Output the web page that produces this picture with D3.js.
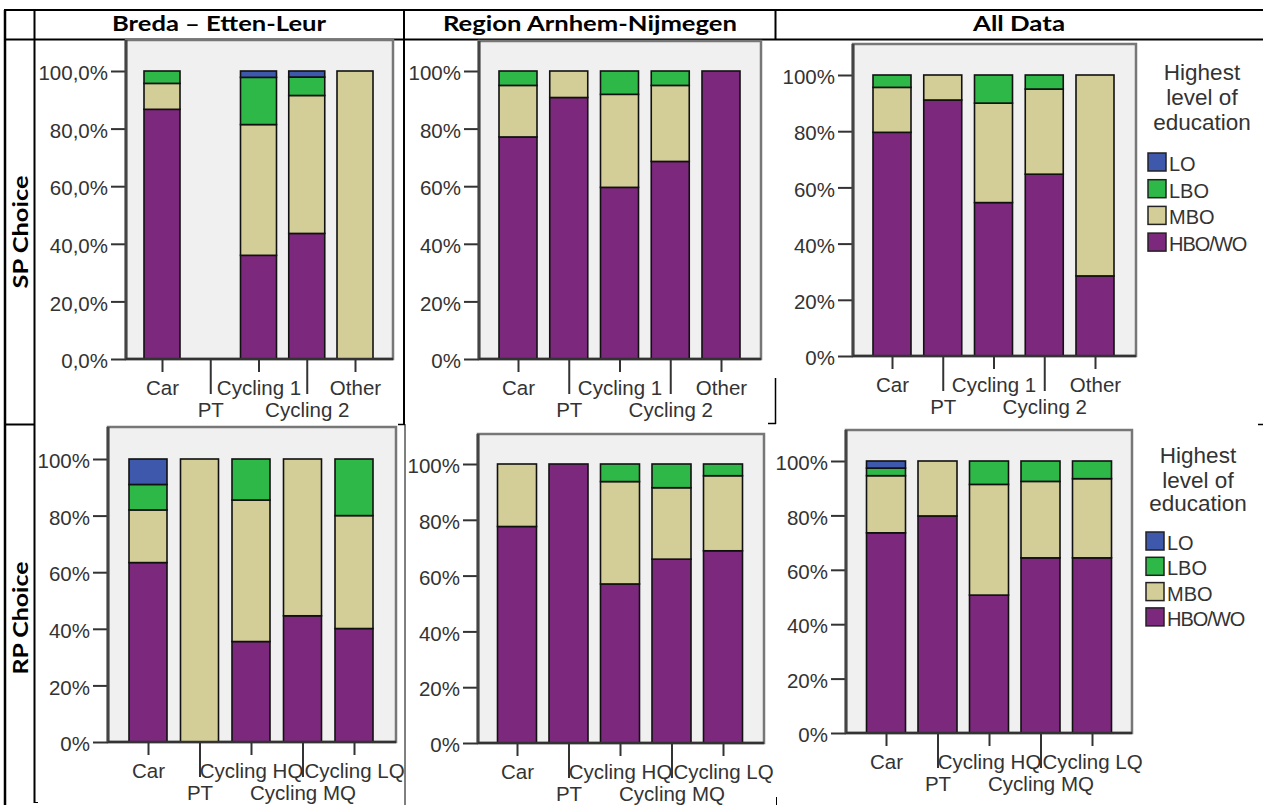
<!DOCTYPE html>
<html>
<head>
<meta charset="utf-8">
<script src="https://cdn.jsdelivr.net/npm/d3@7"></script>
<style>
  html, body { margin: 0; padding: 0; background: #fff; }
  svg { display: block; }
</style>
</head>
<body>
<svg id="chart" width="1263" height="805"></svg>
<script>
// ---------------- DATA ----------------
const categoriesSP = ["Car", "PT", "Cycling 1", "Cycling 2", "Other"];
const categoriesRP = ["Car", "PT", "Cycling HQ", "Cycling MQ", "Cycling LQ"];
const levels = ["HBO/WO", "MBO", "LBO", "LO"];          // stacking order, bottom to top
const legendLevels = ["LO", "LBO", "MBO", "HBO/WO"];    // legend order
const levelColors = ["#7c287d", "#d3ce97", "#2eb848", "#3e58ac"];
const columnTitles = ["Breda \u2013 Etten-Leur", "Region Arnhem-Nijmegen", "All Data"];
const rowTitles = ["SP Choice", "RP Choice"];
const yTicks = [0, 20, 40, 60, 80, 100];
const legendTitle = ["Highest", "level of", "education"];

// SP choice, Breda - Etten-Leur (percent)
const bredaSP_HBO = [86.7, 0, 36.0, 43.6, 0];
const bredaSP_MBO = [9.0, 0, 45.4, 47.9, 100];
const bredaSP_LBO = [4.3, 0, 16.4, 6.4, 0];
const bredaSP_LO  = [0, 0, 2.2, 2.1, 0];
// SP choice, Region Arnhem-Nijmegen
const regionSP_HBO = [77.1, 90.8, 59.6, 68.6, 100];
const regionSP_MBO = [17.9, 9.2, 32.3, 26.4, 0];
const regionSP_LBO = [5.0, 0, 8.1, 5.0, 0];
const regionSP_LO  = [0, 0, 0, 0, 0];
// SP choice, All data
const allSP_HBO = [79.6, 91.1, 54.6, 64.7, 28.5];
const allSP_MBO = [16.0, 8.9, 35.4, 30.3, 71.5];
const allSP_LBO = [4.4, 0, 10.0, 5.0, 0];
const allSP_LO  = [0, 0, 0, 0, 0];
// RP choice, Breda - Etten-Leur
const bredaRP_HBO = [63.4, 0, 35.5, 44.6, 40.1];
const bredaRP_MBO = [18.6, 100, 50.0, 55.4, 39.9];
const bredaRP_LBO = [9.0, 0, 14.5, 0, 20.0];
const bredaRP_LO  = [9.0, 0, 0, 0, 0];
// RP choice, Region Arnhem-Nijmegen
const regionRP_HBO = [77.6, 100, 57.0, 65.9, 68.9];
const regionRP_MBO = [22.4, 0, 36.7, 25.6, 26.9];
const regionRP_LBO = [0, 0, 6.3, 8.5, 4.2];
const regionRP_LO  = [0, 0, 0, 0, 0];
// RP choice, All data
const allRP_HBO = [73.6, 79.8, 50.7, 64.4, 64.4];
const allRP_MBO = [21.0, 20.2, 40.7, 28.1, 29.1];
const allRP_LBO = [2.8, 0, 8.6, 7.5, 6.5];
const allRP_LO  = [2.6, 0, 0, 0, 0];

// ---------------- LAYOUT ----------------
const svg = d3.select("#chart");
const AXIS_FONT = "'Liberation Sans', Arial, sans-serif";
const TITLE_FONT = "Lato, 'Open Sans', sans-serif";

function buildRows(cats, hbo, mbo, lbo, lo) {
  return cats.map((c, i) => ({ cat: c, "HBO/WO": hbo[i], "MBO": mbo[i], "LBO": lbo[i], "LO": lo[i] }));
}

const panels = [
  { cats: categoriesSP, rows: buildRows(categoriesSP, bredaSP_HBO, bredaSP_MBO, bredaSP_LBO, bredaSP_LO),
    fl: 126, fr: 393, ft: 40, y0: 359, y100: 71, c0: 162, c1: 355, bw: 36, decimal: true, row: 0 },
  { cats: categoriesSP, rows: buildRows(categoriesSP, regionSP_HBO, regionSP_MBO, regionSP_LBO, regionSP_LO),
    fl: 479, fr: 761, ft: 41, y0: 359, y100: 71, c0: 518, c1: 721, bw: 38, decimal: false, row: 0 },
  { cats: categoriesSP, rows: buildRows(categoriesSP, allSP_HBO, allSP_MBO, allSP_LBO, allSP_LO),
    fl: 853, fr: 1136, ft: 44, y0: 356, y100: 75, c0: 892, c1: 1095, bw: 38, decimal: false, row: 0 },
  { cats: categoriesRP, rows: buildRows(categoriesRP, bredaRP_HBO, bredaRP_MBO, bredaRP_LBO, bredaRP_LO),
    fl: 108, fr: 396, ft: 427, y0: 742, y100: 459, c0: 148, c1: 354, bw: 38, decimal: false, row: 1 },
  { cats: categoriesRP, rows: buildRows(categoriesRP, regionRP_HBO, regionRP_MBO, regionRP_LBO, regionRP_LO),
    fl: 478, fr: 764, ft: 434, y0: 743, y100: 464, c0: 517, c1: 723, bw: 39, decimal: false, row: 1 },
  { cats: categoriesRP, rows: buildRows(categoriesRP, allRP_HBO, allRP_MBO, allRP_LBO, allRP_LO),
    fl: 846, fr: 1132, ft: 430, y0: 733, y100: 461, c0: 886, c1: 1092, bw: 39, decimal: false, row: 1 }
];

// ---------------- TABLE LINES ----------------
const tbl = svg.append("g").attr("stroke", "#000").attr("fill", "none");
const seg = (x1, y1, x2, y2, w) => tbl.append("line").attr("x1", x1).attr("y1", y1).attr("x2", x2).attr("y2", y2).attr("stroke-width", w);
seg(5, 10, 5, 805, 2.5);
seg(4, 10, 1263, 10, 2);
seg(4, 39.5, 1263, 39.5, 2);
seg(34.5, 10, 34.5, 803, 2);
seg(34.5, 802.5, 38, 802.5, 1);
seg(404, 10, 404, 424, 2);
seg(405, 424, 405, 805, 1);
seg(775.5, 10, 775.5, 40, 2);
seg(775.5, 378, 775.5, 424, 1.5);
seg(5, 424.5, 34.5, 424.5, 2);
seg(398, 424.5, 405, 424.5, 1.5);
seg(768, 423.5, 776, 423.5, 1.5);
seg(1258, 424.5, 1263, 424.5, 1.5);
seg(776.5, 797, 776.5, 805, 1);

// headers
const headerCenters = [219, 590, 1019];
const headerWidths = [214, 294, 92];
columnTitles.forEach((t, i) => {
  svg.append("text")
    .attr("x", headerCenters[i]).attr("y", 31)
    .attr("text-anchor", "middle")
    .attr("font-family", TITLE_FONT).attr("font-weight", "bold").attr("font-size", 20)
    .attr("textLength", headerWidths[i]).attr("lengthAdjust", "spacingAndGlyphs")
    .text(t);
});
const rowCenters = [232, 618];
rowTitles.forEach((t, i) => {
  svg.append("text")
    .attr("transform", `translate(28,${rowCenters[i]}) rotate(-90)`)
    .attr("text-anchor", "middle")
    .attr("font-family", TITLE_FONT).attr("font-weight", "bold").attr("font-size", 20)
    .attr("textLength", 113).attr("lengthAdjust", "spacingAndGlyphs")
    .text(t);
});

// ---------------- PANELS ----------------
const stack = d3.stack().keys(levels);
const color = d3.scaleOrdinal().domain(levels).range(levelColors);

panels.forEach(p => {
  const g = svg.append("g");
  const x = d3.scalePoint().domain(p.cats).range([p.c0, p.c1]);
  const y = d3.scaleLinear().domain([0, 100]).range([p.y0, p.y100]);

  // plot frame
  g.append("rect")
    .attr("x", p.fl).attr("y", p.ft)
    .attr("width", p.fr - p.fl).attr("height", p.y0 - p.ft)
    .attr("fill", "#f0f0f0").attr("stroke", "#777").attr("stroke-width", 2.5);

  // bars
  const series = stack(p.rows);
  g.selectAll("g.layer").data(series).join("g")
    .attr("class", "layer")
    .attr("fill", d => color(d.key))
    .selectAll("rect")
    .data(d => d.filter(s => s[1] - s[0] > 0))
    .join("rect")
    .attr("x", d => x(d.data.cat) - p.bw / 2)
    .attr("width", p.bw)
    .attr("y", d => y(d[1]))
    .attr("height", d => y(d[0]) - y(d[1]))
    .attr("stroke", "#111").attr("stroke-width", 1.6);

  // y axis
  const fmt = p.decimal
    ? (d => d3.format(".1f")(d).replace(".", ",") + "%")
    : (d => d + "%");
  const ya = g.append("g").attr("transform", `translate(${p.fl},0)`)
    .call(d3.axisLeft(y).tickValues(yTicks).tickFormat(fmt).tickSize(15).tickPadding(3));
  ya.select(".domain").remove();
  ya.selectAll(".tick line").attr("stroke", "#333").attr("stroke-width", 2);
  ya.selectAll(".tick text")
    .attr("font-family", AXIS_FONT).attr("font-size", 20.5).attr("fill", "#333")
    .attr("dy", "0.42em");

  // x axis
  const xa = g.append("g").attr("transform", `translate(0,${p.y0})`)
    .call(d3.axisBottom(x).tickSize(13).tickPadding(0));
  xa.select(".domain").remove();
  xa.selectAll(".tick line")
    .attr("stroke", "#333").attr("stroke-width", 2)
    .attr("y2", (d, i) => i % 2 ? 35 : 13);
  xa.selectAll(".tick text")
    .attr("font-family", AXIS_FONT).attr("font-size", 20.5).attr("fill", "#333")
    .attr("dy", null)
    .attr("y", (d, i) => i % 2 ? 58 : 36);

  // axis lines
  g.append("line").attr("x1", p.fl).attr("x2", p.fl).attr("y1", p.ft).attr("y2", p.y0)
    .attr("stroke", "#444").attr("stroke-width", 3);
  g.append("line").attr("x1", p.fl).attr("x2", p.fr).attr("y1", p.y0).attr("y2", p.y0)
    .attr("stroke", "#333").attr("stroke-width", 2.5);
});

// ---------------- LEGENDS ----------------
const legends = [
  { cx: 1202, titleY: [80, 105, 130], sx: 1148, sTop: 153, step: 26.7 },
  { cx: 1198, titleY: [463, 488, 511], sx: 1146, sTop: 532, step: 25.3 }
];
legends.forEach(L => {
  const g = svg.append("g");
  legendTitle.forEach((t, i) => {
    g.append("text").attr("x", L.cx).attr("y", L.titleY[i])
      .attr("text-anchor", "middle")
      .attr("font-family", AXIS_FONT).attr("font-size", 22.5).attr("fill", "#333")
      .text(t);
  });
  legendLevels.forEach((lv, i) => {
    const yy = L.sTop + i * L.step;
    g.append("rect").attr("x", L.sx).attr("y", yy).attr("width", 18).attr("height", 18)
      .attr("fill", color(lv)).attr("stroke", "#222").attr("stroke-width", 1.5);
    g.append("text").attr("x", L.sx + 21).attr("y", yy + 18)
      .attr("font-family", AXIS_FONT).attr("font-size", 20).attr("fill", "#333")
      .attr("letter-spacing", lv === "HBO/WO" ? -1 : 0)
      .text(lv);
  });
});
</script>
</body>
</html>
